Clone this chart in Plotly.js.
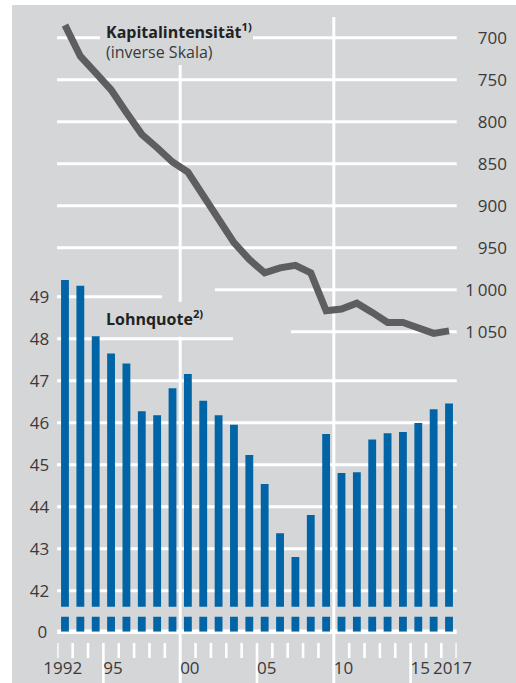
<!DOCTYPE html>
<html><head><meta charset="utf-8">
<script src="https://cdn.plot.ly/plotly-3.0.1.min.js"></script>
<style>
html,body{margin:0;padding:0;background:#ffffff;}
#chart{position:absolute;left:12px;top:5px;width:504px;height:678px;}
</style>
</head><body><div id="chart"></div>
<script>
// ---- data ----
const years = [1992,1993,1994,1995,1996,1997,1998,1999,2000,2001,2002,2003,2004,2005,2006,2007,2008,2009,2010,2011,2012,2013,2014,2015,2016,2017];
const lohnquote = [49.40,49.26,48.06,47.65,47.41,46.27,46.18,46.82,47.16,46.52,46.18,45.95,45.23,44.54,43.37,42.80,43.80,45.73,44.80,44.82,45.60,45.75,45.78,45.99,46.32,46.46];
const kapitalintensitaet = [685,722,742,762,789,815,831,848,860,887,916,944,964,980,974,971,980,1025,1023,1016,1027,1039,1039,1045,1052,1049];
const leftTicks = [42,43,44,45,46,47,48,49];
const rightTicks = [700,750,800,850,900,950,1000,1050];
const rightTickText = ['700','750','800','850','900','950','1\u2009000','1\u2009050'];
const xTickVals = [1992,1995,2000,2005,2010,2015,2017];
const xTickText = ['1992\u2002','95','00','05','10','15','\u20092017'];

// ---- geometry helpers (page pixels -> paper fractions) ----
const W = 504, H = 678, ML = 45, MR = 4, OX = 12, OY = 5;
const PW = W - ML - MR;
const px = x => (x - OX - ML) / PW;
const py = y => (H - (y - OY)) / H;

const BG = '#d5d6d8', GRID = '#ffffff', BLUE = '#0064a6', LINE = '#5e5e60', TXT = '#3a3a3a';
const FONT = 'Open Sans, Noto Sans, sans-serif';

// ---- shapes: gridlines, break-baseline, ticks ----
const shapes = [];
function hline(yref, y, x0, x1, w) {
  shapes.push({type:'line', layer:'below', xref:'paper', yref:yref, x0:px(x0), x1:px(x1), y0:y, y1:y,
    line:{color:GRID, width:w||3}});
}
// right-axis grid (inverse scale)
const rightSegs = {700:[[57,100],[253,456.7]], 1000:[[215,456.7]], 1050:[[291,456.7]]};
rightTicks.forEach(v => (rightSegs[v] || [[57,456.7]]).forEach(s => hline('y2', v, s[0], s[1])));
// left-axis grid
const leftSegs = {49:[[57,162]], 48:[[57,233]]};
leftTicks.forEach(v => (leftSegs[v] || [[57,456.7]]).forEach(s => hline('y', v, s[0], s[1])));
// zero baseline (broken axis)
shapes.push({type:'line', layer:'below', xref:'paper', yref:'paper', x0:px(57), x1:px(456.7), y0:py(631.7), y1:py(631.7),
  line:{color:GRID, width:4.5}});
// vertical lines and ticks at year boundaries
const bounds = years.map(y => y - 0.5).concat([years[years.length-1] + 0.5]);
bounds.forEach(b => {
  const yr = b + 0.5;
  if (yr === 2000) {
    shapes.push({type:'line', layer:'below', xref:'x', yref:'paper', x0:b, x1:b, y0:py(65), y1:py(301.7), line:{color:GRID, width:3}});
    shapes.push({type:'line', layer:'below', xref:'x', yref:'paper', x0:b, x1:b, y0:py(336.7), y1:py(683), line:{color:GRID, width:3}});
  } else if (yr === 2010) {
    shapes.push({type:'line', layer:'below', xref:'x', yref:'paper', x0:b, x1:b, y0:py(17), y1:py(683), line:{color:GRID, width:3}});
  } else {
    const long = (yr === 1995 || yr === 2005 || yr === 2015);
    shapes.push({type:'line', layer:'below', xref:'x', yref:'paper', x0:b, x1:b, y0:py(643), y1:py(long ? 683 : 658), line:{color:GRID, width:2.6}});
  }
});

// ---- traces ----
const traces = [
  {type:'bar', x:years, y:lohnquote, xaxis:'x', yaxis:'y', width:0.51, marker:{color:BLUE, line:{width:0}}, hoverinfo:'skip'},
  {type:'bar', x:years, y:lohnquote, xaxis:'x', yaxis:'y3', width:0.51, marker:{color:BLUE, line:{width:0}}, hoverinfo:'skip'},
  {type:'scatter', mode:'lines', x:years, y:kapitalintensitaet, xaxis:'x', yaxis:'y2',
    line:{color:LINE, width:7}, hoverinfo:'skip'}
];

const tf = {family:FONT, size:17, color:TXT};
const layout = {
  width:W, height:H,
  margin:{l:ML, r:MR, t:0, b:0, pad:0},
  paper_bgcolor:BG, plot_bgcolor:BG,
  showlegend:false,
  font:{family:FONT, color:TXT},
  xaxis:{domain:[px(57.3), px(456.7)], range:[1991.5, 2017.5], anchor:'free', position:py(656),
    tickvals:xTickVals, ticktext:xTickText, ticks:'', tickangle:0, showgrid:false, zeroline:false, showline:false,
    tickfont:tf, ticklabelshift:2},
  yaxis:{domain:[py(606.7), 1], range:[41.619, 55.945], anchor:'x', tickvals:leftTicks, ticks:'',
    showgrid:false, zeroline:false, showline:false, tickfont:tf, ticklabelstandoff:7},
  yaxis2:{domain:[py(606.7), 1], overlaying:'y', side:'right', anchor:'free', position:px(510),
    range:[1377.38, 661.07], tickvals:rightTicks, ticktext:rightTickText, ticks:'', ticklabelposition:'inside',
    showgrid:false, zeroline:false, showline:false, tickfont:tf},
  yaxis3:{domain:[py(631.7), py(616.7)], range:[0, 1], anchor:'x', tickvals:[0], ticktext:['0'], ticks:'',
    showgrid:false, zeroline:false, showline:false, tickfont:tf, ticklabelstandoff:9},
  shapes:shapes,
  annotations:[
    {xref:'paper', yref:'paper', x:px(104), y:py(31), xanchor:'left', yanchor:'middle', showarrow:false,
      text:'<b>Kapitalintensität<sup>1)</sup></b>', font:{family:FONT, size:16, color:'#222222'}},
    {xref:'paper', yref:'paper', x:px(104), y:py(52), xanchor:'left', yanchor:'middle', showarrow:false,
      text:'(inverse Skala)', font:{family:FONT, size:16, color:TXT}},
    {xref:'paper', yref:'paper', x:px(104), y:py(318), xanchor:'left', yanchor:'middle', showarrow:false,
      text:'<b>Lohnquote<sup>2)</sup></b>', font:{family:FONT, size:16, color:'#222222'}}
  ]
};
Plotly.newPlot('chart', traces, layout, {staticPlot:true, displayModeBar:false});
</script>
</body></html>
